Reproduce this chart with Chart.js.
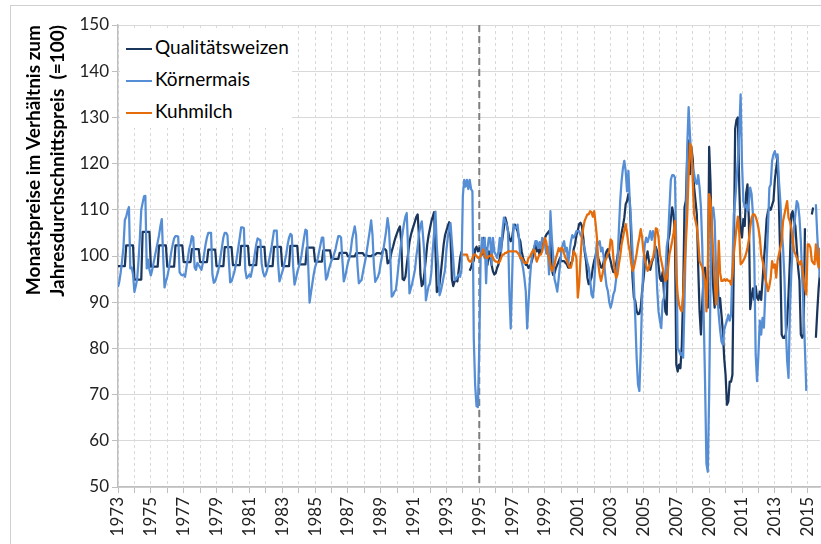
<!DOCTYPE html>
<html lang="de">
<head>
<meta charset="utf-8">
<title>Monatspreise im Verhältnis zum Jahresdurchschnittspreis</title>
<script src="https://cdn.jsdelivr.net/npm/chart.js@4.4.1/dist/chart.umd.min.js"></script>
<style>
  html, body { margin: 0; padding: 0; background: #fff; overflow: hidden; }
  #wrap { position: relative; width: 821px; height: 544px; font-family: Lato, "Open Sans", sans-serif; }
  #rahmen { position: absolute; left: 10px; top: 5px; width: 840px; height: 600px;
            border-left: 1px solid #d0d0d0; border-top: 1px solid #d0d0d0; pointer-events: none; }
  #legende { position: absolute; left: 120px; top: 28px; width: 172px; height: 100px; background: #fff; }
  .eintrag { position: absolute; left: 6px; height: 24px; line-height: 24px; font-size: 19px;
             color: #000; white-space: nowrap; }
  .eintrag i { display: inline-block; width: 26px; height: 2.5px; vertical-align: middle; margin-right: 3px; }
</style>
</head>
<body>
<div id="wrap">
  <canvas id="grafik"></canvas>
  <div id="rahmen"></div>
  <div id="legende">
    <div class="eintrag" style="top:7px"><i style="background:#1B365D"></i>Qualitätsweizen</div>
    <div class="eintrag" style="top:39px"><i style="background:#558ED5"></i>Körnermais</div>
    <div class="eintrag" style="top:71px"><i style="background:#E46C0A"></i>Kuhmilch</div>
  </div>
</div>
<script>
// Monatswerte, Jahresdurchschnitt = 100, je Zeile ein Jahr (Jan..Dez)
const startJahr = 1973;
const milchStart = 1994;
const trennJahr = 1995;

const jahre = [1973, 1974, 1975, 1976, 1977, 1978, 1979, 1980, 1981, 1982, 1983, 1984, 1985,
  1986, 1987, 1988, 1989, 1990, 1991, 1992, 1993, 1994, 1995, 1996, 1997, 1998, 1999, 2000,
  2001, 2002, 2003, 2004, 2005, 2006, 2007, 2008, 2009, 2010, 2011, 2012, 2013, 2014, 2015];

const weizen = [
  /*1973*/ 97.8, 97.8, 97.8, 97.8, 97.8, 97.8, 102.3, 102.3, 102.3, 102.3, 102.3, 102.3,
  /*1974*/ 94.9, 94.9, 94.9, 94.9, 94.9, 94.9, 105.2, 105.2, 105.2, 105.2, 105.2, 105.2,
  /*1975*/ 97.7, 97.7, 97.7, 97.7, 97.7, 97.7, 102.3, 102.3, 102.3, 102.3, 102.3, 102.3,
  /*1976*/ 97.7, 97.7, 97.7, 97.7, 97.7, 97.7, 102.3, 102.3, 102.3, 102.3, 102.3, 102.3,
  /*1977*/ 98.7, 98.7, 98.7, 98.7, 98.7, 98.7, 101.5, 101.5, 101.5, 101.5, 101.5, 101.5,
  /*1978*/ 98.7, 98.7, 98.7, 98.7, 98.7, 98.7, 101.4, 101.4, 101.4, 101.4, 101.4, 101.4,
  /*1979*/ 97.8, 97.8, 97.8, 97.8, 97.8, 97.8, 101.9, 101.9, 101.9, 101.9, 101.9, 101.9,
  /*1980*/ 98.0, 98.0, 98.0, 98.0, 98.0, 98.0, 102.2, 102.2, 102.2, 102.2, 102.2, 102.2,
  /*1981*/ 98.0, 98.0, 98.0, 98.0, 98.0, 98.0, 102.0, 102.0, 102.0, 102.0, 102.0, 102.0,
  /*1982*/ 97.8, 97.8, 97.8, 97.8, 97.8, 97.8, 102.0, 102.0, 102.0, 102.0, 102.0, 102.0,
  /*1983*/ 97.8, 97.8, 97.8, 97.8, 97.8, 97.8, 102.2, 102.2, 102.2, 102.2, 102.2, 102.2,
  /*1984*/ 98.2, 98.2, 98.2, 98.2, 98.2, 98.2, 101.8, 101.8, 101.8, 101.8, 101.8, 101.8,
  /*1985*/ 98.8, 98.8, 98.8, 98.8, 98.8, 98.8, 101.2, 101.2, 101.2, 101.2, 101.2, 101.2,
  /*1986*/ 99.4, 99.4, 99.4, 99.4, 99.4, 99.4, 100.7, 100.7, 100.7, 100.7, 100.7, 100.7,
  /*1987*/ 99.9, 99.9, 99.9, 99.9, 99.9, 99.9, 100.6, 100.6, 100.6, 100.6, 100.6, 100.6,
  /*1988*/ 100.1, 100.1, 100.1, 100.0, 100.0, 100.0, 100.2, 100.3, 100.3, 100.6, 100.6, 100.6,
  /*1989*/ 100.5, 100.8, 101.5, 101.5, 101.2, 98.4, 98.6, 99.5, 101.0, 102.0, 103.2, 104.2,
  /*1990*/ 105.0, 105.8, 106.4, 103.0, 95.0, 94.8, 95.5, 98.0, 100.5, 103.0, 104.5, 105.6,
  /*1991*/ 106.5, 107.5, 108.5, 109.0, 104.0, 96.0, 93.5, 94.0, 96.5, 99.5, 102.5, 104.5,
  /*1992*/ 106.0, 107.5, 108.5, 109.5, 101.0, 92.2, 92.5, 94.0, 96.5, 99.5, 102.5, 104.5,
  /*1993*/ 105.5, 106.5, 107.3, 104.0, 95.0, 93.5, 94.5, 95.0, 94.5, 97.0, 99.5, 101.0,
  /*1994*/ null, null, null, null, null, 96.8, 97.5, 98.5, 99.0, 101.5, 102.0, 101.0,
  /*1995*/ 101.7, 101.0, 100.3, 103.9, 99.6, 101.7, 98.1, 101.0, 99.6, 98.1, 96.7, 96.0,
  /*1996*/ 96.3, 97.4, 98.1, 99.6, 101.7, 103.9, 106.1, 108.3, 107.2, 105.4, 103.9, 103.2,
  /*1997*/ 103.9, 106.1, 106.8, 106.1, 105.4, 103.9, 103.2, 101.0, 99.6, 98.8, 98.1, 98.1,
  /*1998*/ 97.4, 97.8, 98.5, 99.6, 101.7, 102.5, 101.0, 101.7, 100.3, 101.7, 102.5, 103.2,
  /*1999*/ 103.9, 104.6, 105.0, 105.4, 104.0, 97.0, 95.9, 96.3, 97.4, 98.1, 98.8, 99.6,
  /*2000*/ 98.9, 98.9, 98.9, 98.5, 98.2, 97.5, 97.5, 98.5, 98.9, 101.5, 102.5, 104.5,
  /*2001*/ 105.5, 106.9, 107.2, 106.5, 104.0, 101.0, 98.9, 95.3, 93.9, 94.5, 95.3, 97.5,
  /*2002*/ 99.0, 100.0, 101.0, 99.5, 98.5, 97.5, 97.5, 98.9, 100.0, 101.0, 101.5, 100.0,
  /*2003*/ 98.9, 97.5, 96.5, 96.8, 98.2, 100.0, 101.5, 103.0, 105.0, 106.5, 108.3, 111.2,
  /*2004*/ 111.9, 113.4, 111.9, 104.0, 95.3, 91.0, 90.3, 88.1, 87.4, 87.5, 88.8, 92.4,
  /*2005*/ 95.0, 98.0, 99.5, 101.0, 99.0, 97.0, 98.5, 99.5, 100.0, 102.0, 101.0, 98.0,
  /*2006*/ 95.2, 94.6, 96.5, 92.0, 88.0, 87.3, 103.3, 104.7, 108.0, 110.5, 109.0, 104.0,
  /*2007*/ 76.5, 75.0, 76.5, 75.7, 80.5, 92.0, 110.5, 112.0, 122.0, 125.0, 117.7, 123.5,
  /*2008*/ 121.0, 114.9, 112.0, 109.0, 97.5, 88.0, 83.0, 90.0, 96.0, 97.5, 93.0, 88.8,
  /*2009*/ 123.6, 115.9, 100.0, 93.0, 88.8, 93.0, 97.5, 88.8, 90.9, 87.3, 83.7, 77.9,
  /*2010*/ 74.3, 67.8, 68.5, 72.8, 72.8, 74.3, 100.0, 127.5, 129.5, 130.0, 115.0, 105.5,
  /*2011*/ 104.0, 108.0, 106.5, 113.5, 115.5, 108.0, 88.5, 91.0, 93.0, 90.5, 93.5, 91.0,
  /*2012*/ 90.5, 92.3, 90.5, 94.6, 99.0, 103.0, 108.0, 109.7, 110.5, 110.0, 111.0, 112.0,
  /*2013*/ 116.5, 119.0, 121.3, 111.0, 99.0, 83.0, 82.3, 82.3, 83.0, 85.9, 91.7, 98.9,
  /*2014*/ 109.0, 109.7, 107.8, 106.5, 101.8, 97.5, 94.6, 83.0, 82.3, 83.0, 106.0, null,
  /*2015*/ null, null, null, 109.0, 110.5, null, 82.3, 88.0, 93.0, 96.5
];

const mais = [
  /*1973*/ 93.3, 94.5, 96.5, 99.0, 102.0, 107.8, 108.5, 109.8, 110.6, 97.3, 97.5, 96.0,
  /*1974*/ 92.2, 93.5, 95.0, 99.0, 104.0, 110.0, 111.5, 112.9, 113.0, 97.3, 99.2, 97.0,
  /*1975*/ 95.8, 97.0, 98.5, 100.0, 101.5, 103.0, 104.5, 106.5, 108.0, 100.0, 93.2, 94.5,
  /*1976*/ 95.5, 97.0, 99.0, 101.0, 102.5, 103.8, 104.3, 104.3, 104.2, 96.5, 96.0, 95.8,
  /*1977*/ 96.0, 95.5, 97.5, 99.5, 101.5, 102.6, 104.3, 104.0, 97.5, 97.0, 98.5, 98.0,
  /*1978*/ 97.5, 97.0, 98.5, 100.5, 102.5, 104.0, 105.0, 105.0, 105.0, 96.0, 94.2, 94.5,
  /*1979*/ 95.5, 96.5, 98.0, 100.0, 102.0, 104.0, 105.0, 105.0, 104.5, 99.0, 94.3, 94.5,
  /*1980*/ 95.5, 96.5, 98.0, 100.0, 102.0, 104.0, 106.2, 106.2, 106.0, 97.0, 95.2, 95.5,
  /*1981*/ 96.0, 95.5, 97.0, 98.5, 100.5, 102.5, 103.8, 103.6, 103.4, 98.4, 96.5, 95.6,
  /*1982*/ 96.0, 97.0, 98.5, 100.0, 101.5, 103.5, 105.5, 105.5, 105.5, 98.4, 94.5, 95.5,
  /*1983*/ 96.5, 97.5, 99.0, 100.5, 102.5, 104.0, 104.8, 104.5, 97.7, 93.8, 95.0, 96.5,
  /*1984*/ 97.5, 98.5, 100.0, 102.0, 104.0, 105.7, 105.5, 98.0, 89.9, 92.0, 94.0, 96.0,
  /*1985*/ 97.5, 98.5, 99.5, 101.0, 102.5, 104.0, 104.0, 99.0, 94.9, 95.5, 97.0, 98.0,
  /*1986*/ 99.0, 99.5, 100.5, 101.5, 103.0, 104.3, 104.3, 104.0, 99.0, 94.5, 95.5, 97.0,
  /*1987*/ 98.5, 99.5, 101.0, 103.5, 105.0, 106.4, 104.5, 98.0, 94.1, 94.5, 94.8, 96.5,
  /*1988*/ 98.0, 99.5, 101.5, 103.5, 105.5, 107.7, 104.5, 98.0, 94.4, 95.0, 95.5, 96.5,
  /*1989*/ 98.5, 100.0, 101.5, 103.5, 105.5, 108.2, 106.0, 100.0, 91.2, 91.5, 92.3, 92.6,
  /*1990*/ 95.0, 98.0, 100.5, 103.0, 105.0, 107.0, 108.5, 109.3, 101.3, 91.9, 93.0, 94.1,
  /*1991*/ 95.5, 97.0, 99.9, 102.0, 104.9, 106.5, 107.5, 104.0, 99.9, 90.4, 92.0, 93.5,
  /*1992*/ 94.1, 96.5, 101.3, 105.0, 109.6, 102.0, 97.7, 91.5, 92.5, 94.0, 95.5, 97.0,
  /*1993*/ 101.3, 104.0, 106.0, 107.1, 103.0, 99.1, 94.8, 95.0, 95.5, 96.0, 95.5, 97.0,
  /*1994*/ 113.0, 116.5, 115.0, 116.5, 114.5, 116.5, 114.5, 114.0, 82.0, 72.0, 67.5, 67.3,
  /*1995*/ 80.0, 100.0, 103.9, 101.0, 103.9, 94.1, 101.7, 103.9, 103.9, 98.1, 103.9, 101.0,
  /*1996*/ 100.3, 99.6, 101.0, 103.9, 101.0, 105.5, 108.3, 107.5, 106.8, 105.4, 92.3, 84.3,
  /*1997*/ 95.2, 106.8, 106.1, 106.1, 106.8, 103.9, 99.6, 98.8, 97.4, 95.2, 92.3, 84.3,
  /*1998*/ 90.0, 94.9, 98.8, 101.0, 101.7, 103.2, 103.2, 101.7, 103.0, 101.7, 103.9, 103.2,
  /*1999*/ 102.5, 100.5, 102.0, 96.0, 109.7, 104.0, 100.0, 95.0, 93.8, 92.3, 95.0, 98.1,
  /*2000*/ 101.0, 102.5, 103.2, 101.0, 101.8, 98.2, 101.0, 103.2, 104.5, 104.0, 104.5, 105.4,
  /*2001*/ 105.4, 105.4, 104.5, 104.0, 103.0, 101.5, 100.0, 98.5, 97.5, 95.0, 91.7, 91.0,
  /*2002*/ 93.9, 99.6, 103.2, 102.5, 103.2, 101.0, 101.8, 99.6, 96.0, 93.5, 92.4, 90.0,
  /*2003*/ 88.8, 90.0, 91.7, 92.5, 95.0, 99.0, 105.4, 112.0, 116.2, 119.0, 120.6, 118.4,
  /*2004*/ 114.0, 118.4, 111.9, 106.9, 101.0, 93.9, 86.6, 78.0, 72.2, 70.8, 79.4, 91.0,
  /*2005*/ 98.9, 102.5, 104.0, 103.0, 104.0, 105.4, 103.5, 105.4, 104.5, 100.0, 93.0, 88.0,
  /*2006*/ 86.0, 84.4, 90.2, 91.0, 96.0, 102.0, 104.0, 110.5, 116.5, 117.5, 117.5, 117.0,
  /*2007*/ 101.8, 80.0, 79.5, 78.6, 79.0, 78.0, 90.0, 105.0, 124.0, 132.2, 126.0, 121.4,
  /*2008*/ 119.0, 117.8, 116.0, 115.6, 117.5, 114.8, 110.5, 101.8, 87.3, 72.8, 55.0, 53.3,
  /*2009*/ 70.0, 94.6, 109.0, 110.5, 107.6, 97.5, 91.7, 87.3, 84.0, 81.5, 80.8, 84.0,
  /*2010*/ 85.1, 86.0, 87.3, 86.0, 87.3, 97.5, 109.0, 112.0, 116.2, 121.0, 127.0, 135.0,
  /*2011*/ 120.0, 111.9, 110.5, 111.0, 109.7, 111.5, 114.8, 113.4, 109.0, 99.0, 78.7, 72.9,
  /*2012*/ 78.7, 86.0, 83.0, 86.6, 84.5, 91.7, 98.9, 106.0, 114.8, 115.5, 120.6, 122.0,
  /*2013*/ 122.7, 121.3, 122.0, 116.2, 111.9, 106.1, 101.8, 95.3, 84.5, 77.3, 73.6, 88.0,
  /*2014*/ 96.0, 101.8, 106.1, 109.0, 111.9, 111.2, 108.3, 103.2, 95.3, 88.0, 80.0, 70.8,
  /*2015*/ null, null, null, null, null, null, 111.2, 104.5, 99.0, 95.3
];

const milch = [
  /*1994*/ 100.3, 100.3, 100.3, 100.3, 99.2, 98.8, 98.8, 99.5, 100.3, 100.3, 100.0, 99.6,
  /*1995*/ 99.6, 100.0, 100.7, 101.4, 100.3, 99.6, 99.6, 100.0, 100.0, 100.3, 99.6, 99.0,
  /*1996*/ 98.8, 98.8, 98.5, 98.8, 99.6, 100.3, 100.3, 100.7, 100.7, 101.0, 101.0, 101.0,
  /*1997*/ 101.0, 101.0, 101.0, 101.0, 100.7, 100.3, 99.6, 99.6, 99.0, 98.5, 98.5, 98.5,
  /*1998*/ 99.6, 99.8, 100.5, 101.0, 101.4, 100.0, 98.8, 99.6, 100.3, 100.3, 101.0, 102.5,
  /*1999*/ 103.9, 103.0, 100.5, 99.6, 98.1, 96.7, 97.4, 98.1, 99.6, 100.5, 101.7, 101.0,
  /*2000*/ 101.8, 101.5, 100.5, 99.6, 99.0, 98.2, 97.5, 97.5, 98.9, 101.0, 100.5, 99.6,
  /*2001*/ 91.0, 93.9, 99.6, 104.0, 106.1, 107.6, 108.3, 109.0, 109.0, 109.7, 109.5, 108.5,
  /*2002*/ 109.7, 107.0, 104.0, 98.2, 96.0, 94.6, 96.0, 97.5, 98.9, 99.6, 100.5, 101.0,
  /*2003*/ 103.6, 103.2, 99.6, 96.8, 95.3, 96.0, 98.2, 100.0, 102.5, 104.0, 105.5, 106.9,
  /*2004*/ 105.0, 102.5, 101.0, 98.5, 96.8, 97.5, 98.9, 100.5, 102.5, 104.0, 105.8, 104.0,
  /*2005*/ 101.0, 99.5, 98.0, 96.8, 97.5, 98.2, 99.0, 99.6, 101.5, 106.0, 105.8, 104.0,
  /*2006*/ 100.4, 99.0, 97.5, 96.0, 94.6, 95.0, 97.5, 100.4, 101.8, 103.3, 105.0, 107.6,
  /*2007*/ 96.0, 91.5, 89.5, 88.5, 88.0, 91.7, 97.5, 103.0, 109.0, 117.8, 124.3, 123.6,
  /*2008*/ 116.3, 109.0, 107.6, 106.2, 103.3, 98.9, 98.2, 97.5, 96.0, 94.6, 88.0, 97.5,
  /*2009*/ 113.4, 112.0, 106.2, 100.4, 94.6, 89.5, 93.0, 103.3, 96.4, 94.6, 94.6, 95.0,
  /*2010*/ 94.6, 95.0, 94.6, 94.6, 93.8, 96.0, 100.4, 103.3, 106.2, 108.5, 105.0, 98.2,
  /*2011*/ 98.5, 99.0, 99.6, 100.5, 101.8, 103.5, 106.1, 108.3, 109.0, 109.0, 108.5, 107.5,
  /*2012*/ 106.1, 104.0, 100.4, 99.0, 97.5, 95.0, 94.0, 92.4, 93.5, 95.3, 98.9, 97.5,
  /*2013*/ 98.2, 95.3, 99.0, 100.4, 101.8, 103.2, 107.5, 109.0, 110.5, 111.9, 108.3, 107.5,
  /*2014*/ 106.1, 104.0, 101.1, 100.4, 99.6, 98.9, 98.2, 98.9, 97.5, 95.3, 93.0, 91.7,
  /*2015*/ 102.5, 102.5, 101.8, 99.0, 98.5, 98.2, 102.5, 99.0, 97.5, 101.8
];

// Monatsindex -> Jahr als Dezimalzahl
function punkte(werte, ab) {
  return werte.map((v, i) => ({ x: ab + i / 12, y: v }));
}

// gestrichelte Markierung 1995
const markierung = {
  id: 'markierung',
  beforeDatasetsDraw(chart) {
    const { ctx, chartArea, scales } = chart;
    const x = scales.x.getPixelForValue(trennJahr);
    ctx.save();
    ctx.strokeStyle = '#7F7F7F';
    ctx.lineWidth = 2;
    ctx.setLineDash([7, 4]);
    ctx.beginPath();
    ctx.moveTo(x, chartArea.top);
    ctx.lineTo(x, chartArea.bottom);
    ctx.stroke();
    ctx.restore();
  }
};

const schrift = 'Lato, "Open Sans", sans-serif';

new Chart(document.getElementById('grafik'), {
  type: 'line',
  data: {
    datasets: [
      { label: 'Qualitätsweizen', data: punkte(weizen, startJahr), borderColor: '#1B365D', order: 3 },
      { label: 'Körnermais', data: punkte(mais, startJahr), borderColor: '#558ED5', order: 2 },
      { label: 'Kuhmilch', data: punkte(milch, milchStart), borderColor: '#E46C0A', order: 1 }
    ]
  },
  options: {
    responsive: true,
    maintainAspectRatio: false,
    animation: false,
    events: [],
    layout: { padding: { top: 25, right: 1, left: 0, bottom: 0 } },
    elements: {
      line: { borderWidth: 2.25, tension: 0, fill: false, borderJoinStyle: 'round' },
      point: { radius: 0 }
    },
    plugins: { legend: { display: false }, tooltip: { enabled: false } },
    scales: {
      x: {
        type: 'linear',
        min: 1973,
        max: 2015.75,
        afterBuildTicks: (scale) => { scale.ticks = jahre.map(v => ({ value: v })); },
        afterFit: (scale) => { scale.height = 57; scale.paddingLeft = 0; scale.paddingRight = 0; },
        ticks: {
          autoSkip: false,
          minRotation: 90,
          maxRotation: 90,
          padding: 4,
          color: '#222',
          font: { family: schrift, size: 17 },
          callback: (v) => (v % 2 === 1 ? String(v) : '')
        },
        grid: { color: '#D9D9D9', lineWidth: 1, tickLength: 6, tickColor: '#BFBFBF' },
        border: { color: '#BFBFBF', width: 1.5, dash: [3, 3] }
      },
      y: {
        min: 50,
        max: 150,
        afterFit: (scale) => { scale.width = 118; },
        ticks: {
          stepSize: 10,
          padding: 3,
          color: '#222',
          font: { family: schrift, size: 17 }
        },
        grid: { color: '#D9D9D9', lineWidth: 1, tickLength: 6, tickColor: '#BFBFBF' },
        border: { color: '#BFBFBF', width: 1.5 },
        title: {
          display: true,
          text: ['Monatspreise im Verhältnis zum', 'Jahresdurchschnittspreis  (=100)'],
          align: 'end',
          color: '#000',
          padding: { top: 22, bottom: 0 },
          font: { family: schrift, size: 19, weight: 'bold', lineHeight: 1.27 }
        }
      }
    }
  },
  plugins: [markierung]
});
</script>
</body>
</html>
